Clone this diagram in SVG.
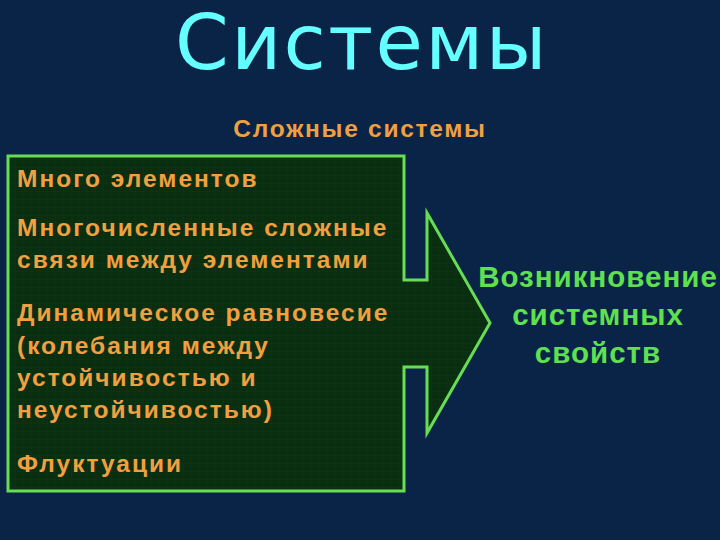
<svg xmlns="http://www.w3.org/2000/svg" width="720" height="540" viewBox="0 0 720 540">
<style>
.title{font-family:"DejaVu Sans","Open Sans",sans-serif;font-size:77px;letter-spacing:2.4px;fill:#66ffff;text-anchor:middle}
.sub{font-family:"Liberation Sans",Arial,sans-serif;font-weight:bold;font-size:24.5px;letter-spacing:1.7px;fill:#f0a040;text-anchor:middle}
.item{font-family:"Liberation Sans",Arial,sans-serif;font-weight:bold;font-size:24.5px;letter-spacing:2px;fill:#f0a040}
.res{font-family:"Liberation Sans",Arial,sans-serif;font-weight:bold;font-size:29.5px;letter-spacing:1px;fill:#5fe050;text-anchor:middle}
.shape{fill:#0a2e10;stroke:#66dd55;stroke-width:3;stroke-linejoin:miter}
</style>
<defs>
<pattern id="grid" width="8" height="8" patternUnits="userSpaceOnUse">
<rect width="8" height="8" fill="#0a2e10"/>
<path d="M8 0V8M0 8H8" stroke="#0f3616" stroke-width="1"/>
</pattern>
</defs>
<rect width="720" height="540" fill="#0a2448"/>
<text class="title" x="362" y="69">Системы</text>
<text class="sub" x="360" y="137">Сложные системы</text>
<g id="arrow-block">
<path class="shape" style="fill:url(#grid)" d="M8 156H404V280H427V213L490 323L427 433V367H404V491H8Z"/>
<text class="item" x="17" y="187">Много элементов</text>
<text class="item" x="17" y="236">Многочисленные сложные</text>
<text class="item" x="17" y="268">связи между элементами</text>
<text class="item" x="17" y="321">Динамическое равновесие</text>
<text class="item" x="17" y="354">(колебания между</text>
<text class="item" x="17" y="386">устойчивостью и</text>
<text class="item" x="17" y="418">неустойчивостью)</text>
<text class="item" x="17" y="472">Флуктуации</text>
</g>
<g id="result">
<text class="res" x="598" y="287">Возникновение</text>
<text class="res" x="598" y="325">системных</text>
<text class="res" x="598" y="363">свойств</text>
</g>
<g id="connectors"></g>
</svg>
